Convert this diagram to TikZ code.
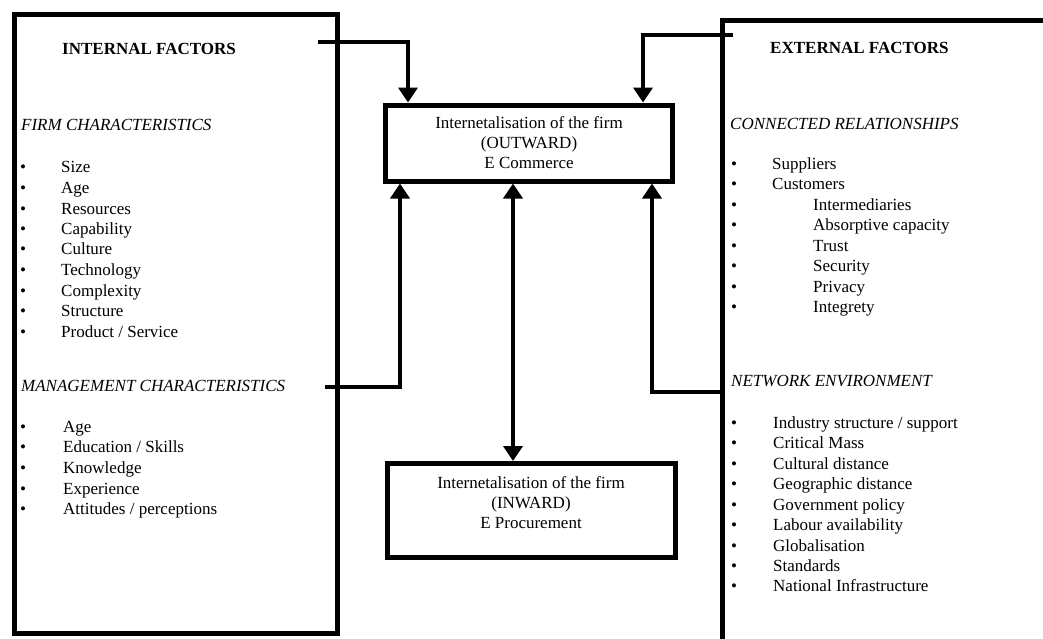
\documentclass[tikz,border=0pt]{standalone}
\usepackage{fontspec}
\setmainfont{Liberation Serif}
\usetikzlibrary{arrows.meta}
\newcommand{\blt}[1]{\makebox[#1][l]{\textbullet}}

\begin{document}
\begin{tikzpicture}[x=1pt, y=-1pt,
        font=\fontsize{17}{20}\selectfont,
        factorbox/.style={draw, line width=5pt, inner sep=0pt},
        firmbox/.style={draw, line width=5pt, inner sep=0pt, align=center},
        item/.style={anchor=west, inner sep=0pt, text height=12pt, text depth=4pt},
        link/.style={line width=4pt, -{Triangle[width=19pt,length=15pt]}},
        twolink/.style={line width=4pt, {Triangle[width=19pt,length=15pt]}-{Triangle[width=19pt,length=15pt]}}]

        \useasboundingbox (0,0) rectangle (1043,638);

        % the two factor boxes
        \node[factorbox, minimum width=323pt, minimum height=619pt] (internal) at (176,324) {};
        \node[factorbox, minimum width=400pt, minimum height=700pt] (external) at (922,370) {};

        % the two firm boxes
        \node[firmbox, minimum width=287pt, minimum height=76pt] (outward) at (529,143)
            {Internetalisation of the firm\\(OUTWARD)\\E Commerce};
        \node[firmbox, minimum width=288pt, minimum height=94pt] (inward) at (531.5,510.5) {};
        \node[align=center, inner sep=0pt] (inwardtext) at (531,503)
            {Internetalisation of the firm\\(INWARD)\\E Procurement};

        % internal factors
        \node[item] (inhead) at (62,50) {\textbf{INTERNAL FACTORS}};
        \node[item] (firmhead) at (21,126) {\textit{FIRM CHARACTERISTICS}};
        \node[item] (firm1) at (20,168) {\blt{41pt}Size};
        \node[item] (firm2) at (20,189) {\blt{41pt}Age};
        \node[item] (firm3) at (20,210) {\blt{41pt}Resources};
        \node[item] (firm4) at (20,230) {\blt{41pt}Capability};
        \node[item] (firm5) at (20,250) {\blt{41pt}Culture};
        \node[item] (firm6) at (20,271) {\blt{41pt}Technology};
        \node[item] (firm7) at (20,292) {\blt{41pt}Complexity};
        \node[item] (firm8) at (20,312) {\blt{41pt}Structure};
        \node[item] (firm9) at (20,333) {\blt{41pt}Product / Service};

        \node[item] (mgmthead) at (21,387) {\textit{MANAGEMENT CHARACTERISTICS}};
        \node[item] (mgmt1) at (20,428) {\blt{43pt}Age};
        \node[item] (mgmt2) at (20,448) {\blt{43pt}Education / Skills};
        \node[item] (mgmt3) at (20,469) {\blt{43pt}Knowledge};
        \node[item] (mgmt4) at (20,490) {\blt{43pt}Experience};
        \node[item] (mgmt5) at (20,510) {\blt{43pt}Attitudes / perceptions};

        % external factors
        \node[item] (exhead) at (770,49) {\textbf{EXTERNAL FACTORS}};
        \node[item] (connhead) at (730,125) {\textit{CONNECTED RELATIONSHIPS}};
        \node[item] (conn1) at (731,165) {\blt{41pt}Suppliers};
        \node[item] (conn2) at (731,185) {\blt{41pt}Customers};
        \node[item] (conn3) at (731,206) {\blt{82pt}Intermediaries};
        \node[item] (conn4) at (731,226) {\blt{82pt}Absorptive capacity};
        \node[item] (conn5) at (731,247) {\blt{82pt}Trust};
        \node[item] (conn6) at (731,267) {\blt{82pt}Security};
        \node[item] (conn7) at (731,288) {\blt{82pt}Privacy};
        \node[item] (conn8) at (731,308) {\blt{82pt}Integrety};

        \node[item] (nethead) at (731,382) {\textit{NETWORK ENVIRONMENT}};
        \node[item] (net1) at (731,424) {\blt{42pt}Industry structure / support};
        \node[item] (net2) at (731,444) {\blt{42pt}Critical Mass};
        \node[item] (net3) at (731,465) {\blt{42pt}Cultural distance};
        \node[item] (net4) at (731,485) {\blt{42pt}Geographic distance};
        \node[item] (net5) at (731,506) {\blt{42pt}Government policy};
        \node[item] (net6) at (731,526) {\blt{42pt}Labour availability};
        \node[item] (net7) at (731,547) {\blt{42pt}Globalisation};
        \node[item] (net8) at (731,567) {\blt{42pt}Standards};
        \node[item] (net9) at (731,587) {\blt{42pt}National Infrastructure};

        % links
        \coordinate (intop) at (318,42);
        \coordinate (extop) at (733,35);
        \coordinate (mgmtlink) at (325,387);
        \coordinate (netlink) at (722,392);
        \draw[link] (intop) -| ([xshift=25pt]outward.north west);
        \draw[link] (extop) -| ([xshift=-32pt]outward.north east);
        \draw[link] (mgmtlink) -| ([xshift=17pt]outward.south west);
        \draw[link] (netlink) -| ([xshift=-23pt]outward.south east);
        \draw[twolink] ([xshift=-16pt]outward.south)
            -- ([xshift=-16pt]outward.south |- inward.north);
    \end{tikzpicture}
\end{document}
